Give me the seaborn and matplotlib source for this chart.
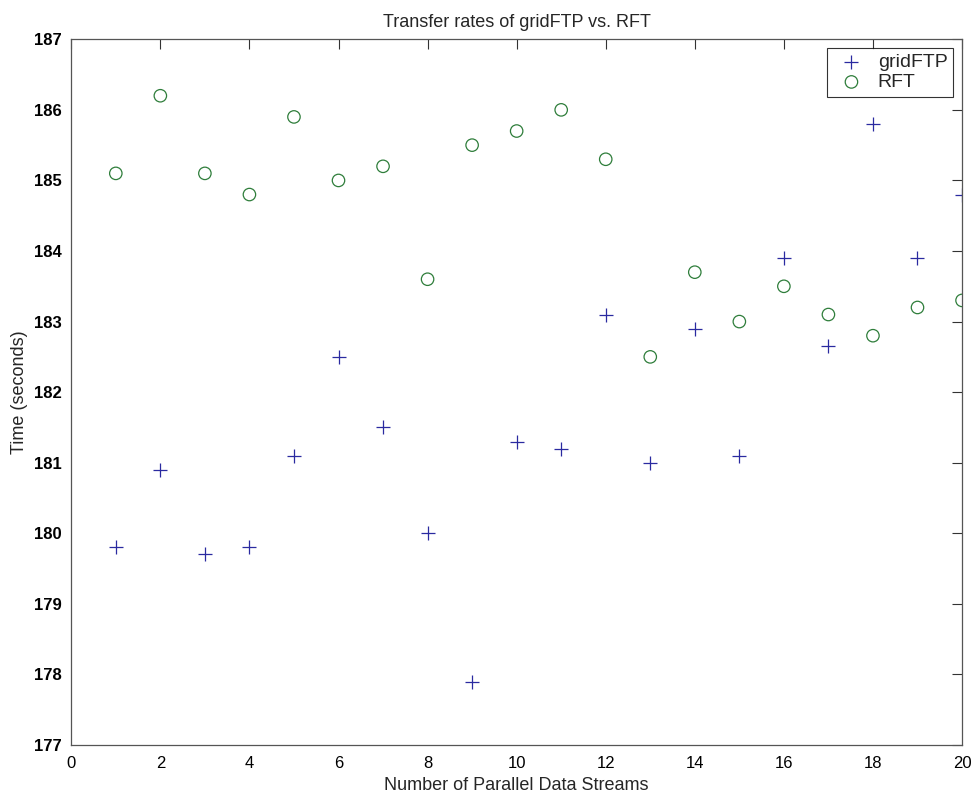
import matplotlib
matplotlib.use("Agg")
import matplotlib.pyplot as plt
import seaborn as sns
import pandas as pd

sns.set_style("white")
plt.rcParams['font.family'] = ['Liberation Sans', 'DejaVu Sans']

streams = list(range(1, 21))
gridftp = [179.8, 180.9, 179.7, 179.8, 181.1, 182.5, 181.5, 180.0, 177.9, 181.3,
           181.2, 183.1, 181.0, 182.9, 181.1, 183.9, 182.65, 185.8, 183.9, 184.8]
rft = [185.1, 186.2, 185.1, 184.8, 185.9, 185.0, 185.2, 183.6, 185.5, 185.7,
       186.0, 185.3, 182.5, 183.7, 183.0, 183.5, 183.1, 182.8, 183.2, 183.3]

df = pd.DataFrame({"streams": streams, "gridFTP": gridftp, "RFT": rft})

blue = "#2a2aa0"
green = "#2e7d3a"

fig = plt.figure(figsize=(9.75, 7.92), dpi=100)
ax = fig.add_axes([0.0731, 0.0593, 0.9136, 0.8911])

sns.scatterplot(data=df, x="streams", y="gridFTP", marker="+", s=90,
                color=blue, linewidth=0.9, label="gridFTP", ax=ax)
sns.scatterplot(data=df, x="streams", y="RFT", marker="o", s=80,
                facecolors="none", edgecolor=green, linewidth=0.9,
                label="RFT", ax=ax)

ax.set_xlim(0, 20)
ax.set_ylim(177, 187)
ax.set_xticks(range(0, 21, 2))
ax.set_yticks(range(177, 188))
ax.tick_params(direction="in", length=7, width=0.8, top=True, right=True,
               labelsize=12, colors="#333333", labelcolor="black")
ax.tick_params(axis="x", pad=8)
ax.tick_params(axis="y", pad=7)
for lab in ax.get_yticklabels():
    lab.set_fontweight("bold")
for s in ax.spines.values():
    s.set_color("#555555")
    s.set_linewidth(0.9)

ax.set_title("Transfer rates of gridFTP vs. RFT", fontsize=13, pad=9)
ax.set_xlabel("Number of Parallel Data Streams", fontsize=13, labelpad=4)
ax.set_ylabel("Time (seconds)", fontsize=13, labelpad=4)

leg = ax.legend(loc="upper right", fontsize=14, frameon=True, fancybox=False,
                edgecolor="black", borderaxespad=0.45, handletextpad=0.4,
                borderpad=0.3, labelspacing=0.1, handlelength=1.9)
leg.get_frame().set_linewidth(0.8)

fig.savefig("out.png", dpi=100)
